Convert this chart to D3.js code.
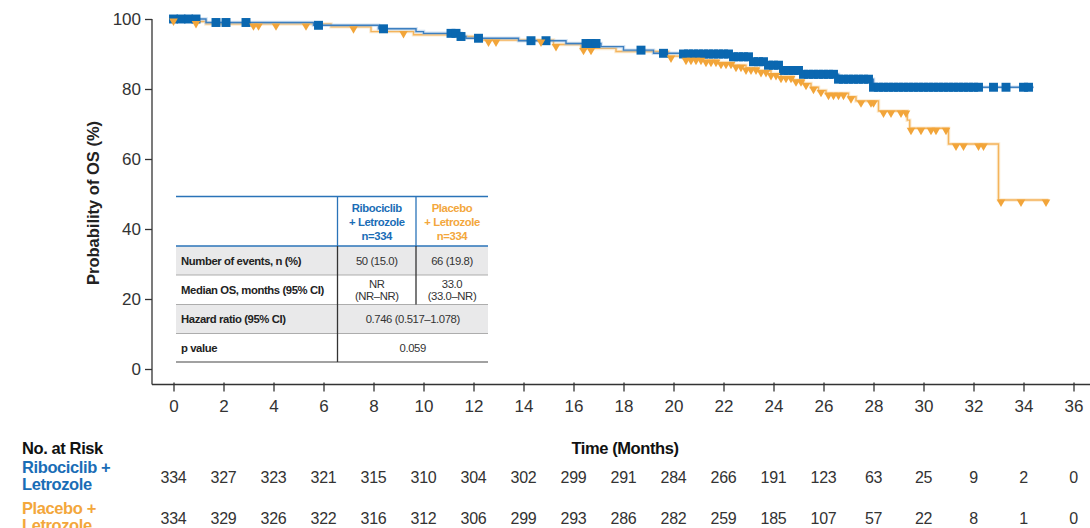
<!DOCTYPE html>
<html><head><meta charset="utf-8">
<script src="https://cdn.jsdelivr.net/npm/d3@7"></script>
<style>
body{margin:0;background:#fff;}
svg{display:block;font-family:"Liberation Sans",Arial,Helvetica,sans-serif;}
</style></head>
<body><svg id="c" width="1090" height="528"></svg>
<script>
// ---------- DATA ----------
const xTicks = [0,2,4,6,8,10,12,14,16,18,20,22,24,26,28,30,32,34,36];
const yTicks = [0,20,40,60,80,100];

// Ribociclib + Letrozole KM steps: [time, survival %]
const riboSteps = [[0,100],[1.3,99.0],[5.6,98.2],[8.2,97.2],[9.7,96.4],[10.0,95.9],[11.5,95.0],[11.7,94.5],
  [13.8,93.8],[15.7,93.0],[17.1,92.1],[18.0,91.1],[19.2,90.2],[20.3,90.0],[22.4,89.2],[23.1,87.8],
  [23.7,86.8],[24.3,85.3],[25.1,84.2],[26.6,82.8],[28.0,80.5]];
const riboEnd = 34.4;
const riboCensor = [0.0,0.3,0.6,0.9,1.7,2.1,2.9,5.8,8.4,11.1,11.3,11.5,12.2,14.3,14.9,16.5,16.7,16.9,18.7,19.6,
  20.4,20.6,20.8,21.0,21.2,21.4,21.6,21.8,22.0,22.2,22.4,22.6,22.8,23.0,23.2,23.4,23.6,23.8,24.0,24.2,24.4,
  24.6,24.8,25.0,25.2,25.4,25.6,25.8,26.0,26.2,26.4,26.6,26.8,27.0,27.2,27.4,27.6,27.8,28.0,28.2,28.4,28.6,
  28.8,29.0,29.2,29.4,29.6,29.8,30.0,30.2,30.4,30.6,30.8,31.0,31.2,31.4,31.6,31.8,32.0,32.2,32.8,33.3,34.0,34.2];

// Placebo + Letrozole KM steps
const placSteps = [[0,100],[0.8,99.3],[1.3,98.6],[6.3,97.8],[7.9,96.4],[9.6,95.5],[11.5,95.0],[12.3,94.0],
  [15.2,92.7],[16.3,91.6],[17.7,90.7],[19.8,89.4],[20.4,88.8],[21.2,88.2],[21.8,87.6],[22.4,86.8],[22.9,86.0],
  [23.4,85.3],[23.9,84.4],[24.3,83.6],[24.8,82.6],[25.2,81.6],[25.5,80.5],[25.8,79.6],[26.1,78.8],[27.0,77.8],
  [27.3,76.6],[28.2,73.7],[29.35,71.1],[29.45,68.8],[31.0,64.3],[33.0,48.3]];
const placEnd = 35.0;
const placCensor = [0.0,0.9,3.2,3.4,4.1,5.3,7.2,9.2,12.6,12.9,14.7,15.3,16.4,16.7,19.9,
  20.5,20.7,20.9,21.1,21.3,21.5,21.7,21.9,22.1,22.3,22.5,22.7,22.9,23.1,23.3,23.5,23.7,23.9,24.1,24.3,24.5,
  24.7,24.9,25.1,25.3,25.6,25.9,26.2,26.4,26.6,26.8,27.1,27.5,27.9,28.0,28.4,28.7,29.1,29.3,
  29.5,29.9,30.3,30.5,30.9,31.3,31.6,32.2,32.4,33.1,33.9,34.9];

const riskRibo = [334,327,323,321,315,310,304,302,299,291,284,266,191,123,63,25,9,2,0];
const riskPlac = [334,329,326,322,316,312,306,299,293,286,282,259,185,107,57,22,8,1,0];

const tblHeaderRibo = ["Ribociclib","+ Letrozole","n=334"];
const tblHeaderPlac = ["Placebo","+ Letrozole","n=334"];
const tblRowLabels = ["Number of events, n (%)","Median OS, months (95% CI)","Hazard ratio (95% CI)","p value"];
const tblRibo = [["50 (15.0)"],["NR","(NR–NR)"]];
const tblPlac = [["66 (19.8)"],["33.0","(33.0–NR)"]];
const tblMerged = ["0.746 (0.517–1.078)","0.059"];

// ---------- STYLE ----------
const BLUE = "#0a67b0", BLUE_LINE = "#3d7fc0", ORANGE = "#f2a53a", ORANGE_LINE = "#f4b45c";
const TXT = "#333";

const svg = d3.select("#c");
const x = d3.scaleLinear().domain([0,36]).range([173.5,1073.5]);
const y = d3.scaleLinear().domain([0,100]).range([369,19]);
const axisY = 384.5, axisX = 152;

// Y axis
const gy = svg.append("g").attr("transform",`translate(${axisX},0)`)
  .call(d3.axisLeft(y).tickValues(yTicks).tickSize(7).tickPadding(4));
gy.select(".domain").remove();
gy.selectAll("line").attr("stroke","#333").attr("stroke-width",1.3);
gy.selectAll("text").attr("font-size",17).attr("fill",TXT).attr("font-family","Liberation Sans, Arial");
svg.append("line").attr("x1",axisX).attr("x2",axisX).attr("y1",y(100)).attr("y2",axisY)
  .attr("stroke","#333").attr("stroke-width",1.3);

// X axis
const gx = svg.append("g").attr("transform",`translate(0,${axisY})`)
  .call(d3.axisBottom(x).tickValues(xTicks).tickSize(7).tickPadding(8));
gx.select(".domain").remove();
gx.selectAll("line").attr("stroke","#333").attr("stroke-width",1.3).attr("y1",-2);
gx.selectAll("text").attr("font-size",17).attr("fill",TXT).attr("font-family","Liberation Sans, Arial");
svg.append("line").attr("x1",axisX).attr("x2",1090).attr("y1",axisY).attr("y2",axisY)
  .attr("stroke","#333").attr("stroke-width",1.3);

// Y label
svg.append("text").attr("transform","translate(99,203) rotate(-90)").attr("text-anchor","middle")
  .attr("font-size",16.5).attr("font-weight","bold").attr("fill","#222").text("Probability of OS (%)");

// KM curves
function survAt(steps,t){let s=steps[0][1];for(const p of steps){if(p[0]<=t)s=p[1];}return s;}
const line = d3.line().x(d=>x(d[0])).y(d=>y(d[1])).curve(d3.curveStepAfter);
function drawArm(steps,end,color,halo){
  const pts = steps.concat([[end,steps[steps.length-1][1]]]);
  svg.append("path").datum(pts).attr("d",line).attr("fill","none").attr("stroke",halo).attr("stroke-opacity",0.45).attr("stroke-width",3.5);
  svg.append("path").datum(pts).attr("d",line).attr("fill","none").attr("stroke",color).attr("stroke-width",1.4);
}
drawArm(placSteps,placEnd,ORANGE_LINE,"#f8d29a");
drawArm(riboSteps,riboEnd,BLUE_LINE,"#9cbfe2");

const sq = d3.symbol().type(d3.symbolSquare).size(80);
svg.append("g").selectAll("path").data(riboCensor).join("path")
  .attr("d",sq).attr("fill",BLUE)
  .attr("transform",d=>`translate(${x(d)},${y(survAt(riboSteps,d))})`);
const tri = d3.symbol().type(d3.symbolTriangle).size(32);
svg.append("g").selectAll("path").data(placCensor).join("path")
  .attr("d",tri).attr("fill",ORANGE)
  .attr("transform",d=>`translate(${x(d)},${y(survAt(placSteps,d))+2}) rotate(180)`);

// ---------- Table ----------
const tX0=176, tX1=488, c1=337.5, c2=416;
const rowY=[196.5,246,275,304.5,333.5,362];
const tg = svg.append("g").attr("font-size",11.3).attr("letter-spacing","-0.4px");
tg.append("rect").attr("x",tX0).attr("y",rowY[1]).attr("width",tX1-tX0).attr("height",rowY[2]-rowY[1]).attr("fill","#e9e9ea");
tg.append("rect").attr("x",tX0).attr("y",rowY[3]).attr("width",tX1-tX0).attr("height",rowY[4]-rowY[3]).attr("fill","#e9e9ea");
// lines
tg.append("line").attr("x1",tX0).attr("x2",tX1).attr("y1",rowY[0]).attr("y2",rowY[0]).attr("stroke","#2a73b8").attr("stroke-width",1.3);
tg.append("line").attr("x1",tX0).attr("x2",tX1).attr("y1",rowY[1]).attr("y2",rowY[1]).attr("stroke","#2a73b8").attr("stroke-width",1.3);
[2,3,4].forEach(i=>tg.append("line").attr("x1",tX0).attr("x2",tX1).attr("y1",rowY[i]).attr("y2",rowY[i]).attr("stroke","#9a9a9a").attr("stroke-width",0.8));
tg.append("line").attr("x1",tX0).attr("x2",tX1).attr("y1",rowY[5]).attr("y2",rowY[5]).attr("stroke","#444").attr("stroke-width",1.2);
tg.append("line").attr("x1",c1).attr("x2",c1).attr("y1",rowY[0]).attr("y2",rowY[1]).attr("stroke","#2a73b8").attr("stroke-width",1.3);
tg.append("line").attr("x1",c2).attr("x2",c2).attr("y1",rowY[0]).attr("y2",rowY[1]).attr("stroke","#2a73b8").attr("stroke-width",1.3);
tg.append("line").attr("x1",c1).attr("x2",c1).attr("y1",rowY[1]).attr("y2",rowY[5]).attr("stroke","#333").attr("stroke-width",1.3);
tg.append("line").attr("x1",c2).attr("x2",c2).attr("y1",rowY[1]).attr("y2",rowY[3]).attr("stroke","#333").attr("stroke-width",1.3);
// header text
tblHeaderRibo.forEach((t,i)=>tg.append("text").attr("x",(c1+c2)/2).attr("y",212+i*14.2).attr("text-anchor","middle")
  .attr("font-weight","bold").attr("fill","#1a6db6").text(t));
tblHeaderPlac.forEach((t,i)=>tg.append("text").attr("x",(c2+tX1)/2).attr("y",212+i*14.2).attr("text-anchor","middle")
  .attr("font-weight","bold").attr("fill","#f3a73c").text(t));
// row labels
tblRowLabels.forEach((t,i)=>tg.append("text").attr("x",181).attr("y",(rowY[i+1]+rowY[i+2])/2+4)
  .attr("font-weight","bold").attr("fill","#222").text(t));
function cellLines(lines,cx,r){
  const mid=(rowY[r+1]+rowY[r+2])/2;
  const n=lines.length, lh=11.5;
  lines.forEach((t,i)=>tg.append("text").attr("x",cx).attr("y",mid+4+(i-(n-1)/2)*lh).attr("text-anchor","middle").attr("fill",TXT).text(t));
}
tblRibo.forEach((l,r)=>cellLines(l,(c1+c2)/2,r));
tblPlac.forEach((l,r)=>cellLines(l,(c2+tX1)/2,r));
tblMerged.forEach((t,i)=>cellLines([t],(c1+tX1)/2,i+2));

// ---------- At risk ----------
svg.append("text").attr("x",22).attr("y",454).attr("font-size",16.5).attr("font-weight","bold").attr("fill","#111")
  .attr("letter-spacing","-0.4px").text("No. at Risk");
svg.append("text").attr("x",625).attr("y",454).attr("font-size",16.5).attr("font-weight","bold").attr("fill","#111")
  .attr("text-anchor","middle").attr("letter-spacing","-0.4px").text("Time (Months)");
const lab = svg.append("g").attr("font-size",16.5).attr("font-weight","bold").attr("letter-spacing","-0.4px");
lab.append("text").attr("x",22).attr("y",473).attr("fill","#1a6db6").text("Ribociclib +");
lab.append("text").attr("x",22).attr("y",490).attr("fill","#1a6db6").text("Letrozole");
lab.append("text").attr("x",22).attr("y",514).attr("fill","#f3a73c").text("Placebo +");
lab.append("text").attr("x",22).attr("y",531).attr("fill","#f3a73c").text("Letrozole");
svg.append("g").selectAll("text").data(riskRibo).join("text")
  .attr("x",(d,i)=>x(xTicks[i])).attr("y",483).attr("text-anchor","middle").attr("font-size",16).attr("fill",TXT)
  .attr("letter-spacing","-0.3px").text(d=>d);
svg.append("g").selectAll("text").data(riskPlac).join("text")
  .attr("x",(d,i)=>x(xTicks[i])).attr("y",524).attr("text-anchor","middle").attr("font-size",16).attr("fill",TXT)
  .attr("letter-spacing","-0.3px").text(d=>d);
</script></body></html>
